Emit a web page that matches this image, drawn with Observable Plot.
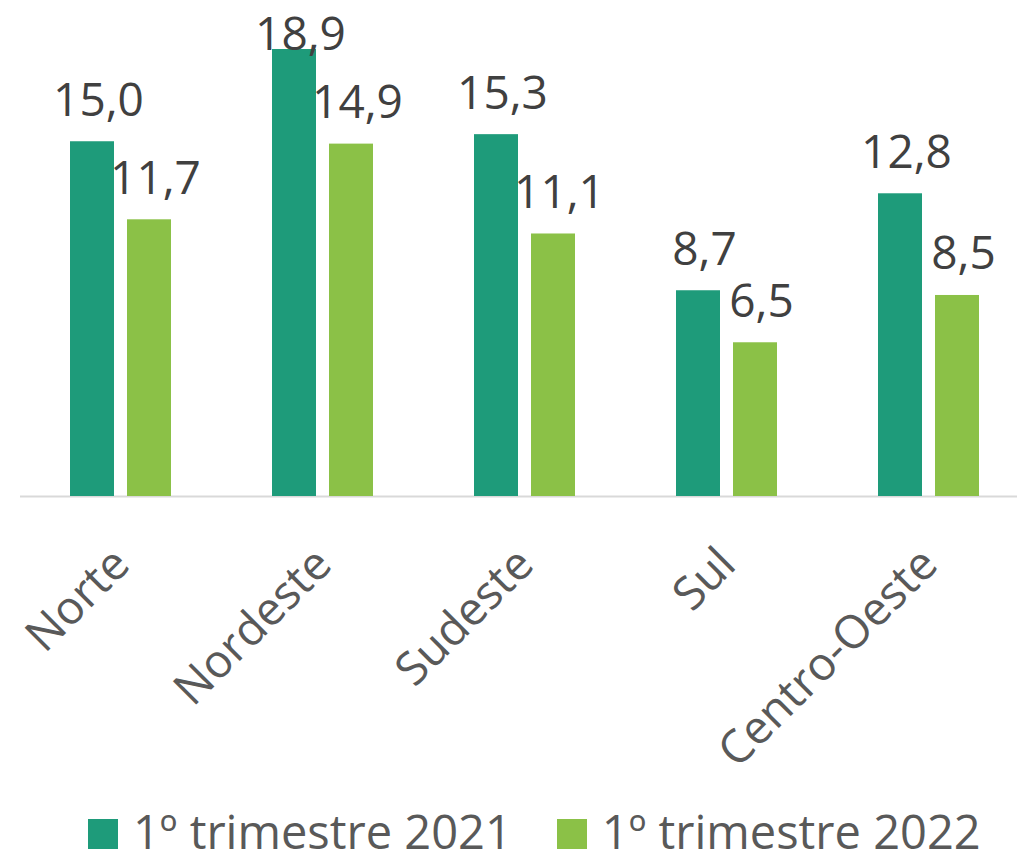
<!DOCTYPE html>
<html>
<head>
<meta charset="utf-8">
<script src="https://cdn.jsdelivr.net/npm/d3@7"></script>
<script src="https://cdn.jsdelivr.net/npm/@observablehq/plot@0.6"></script>
<style>
  html, body { margin: 0; padding: 0; background: #ffffff; overflow: hidden; width: 1017px; height: 862px; }
  #wrap { position: relative; width: 1017px; height: 862px; overflow: hidden; }
  #chart svg { display: block; max-width: none !important; }
  #legend { position: absolute; top: 808px; left: 88px; display: flex; align-items: baseline; gap: 45px;
            font-family: 'Open Sans', sans-serif; font-size: 47px; line-height: 47px; color: #595959; white-space: nowrap; }
  .item { display: flex; align-items: baseline; }
  .sw { width: 30px; height: 30px; margin-right: 15px; }
</style>
</head>
<body>
<div id="wrap">
  <div id="chart"></div>
  <div id="legend"></div>
</div>
<script>
const regions = ["Norte", "Nordeste", "Sudeste", "Sul", "Centro-Oeste"];
const series = ["1º trimestre 2021", "1º trimestre 2022"];
const values2021 = [15.0, 18.9, 15.3, 8.7, 12.8];
const values2022 = [11.7, 14.9, 11.1, 6.5, 8.5];
const colors = ["#1E9B7A", "#8BC147"];

const data = regions.flatMap((r, i) => [
  {region: r, series: series[0], value: values2021[i]},
  {region: r, series: series[1], value: values2022[i]}
]);
const fmt = v => v.toFixed(1).replace(".", ",");
const labelCap = 17.8;

const chart = Plot.plot({
  width: 1032,
  height: 800,
  marginTop: 23,
  marginBottom: 304,
  marginLeft: 18,
  marginRight: 0,
  style: {fontFamily: "'Open Sans', sans-serif", background: "white", maxWidth: "none"},
  fx: {domain: regions, padding: 0, axis: null},
  x: {domain: series, paddingInner: 0.224, paddingOuter: 0.862, axis: null},
  y: {domain: [0, 20], axis: null},
  color: {domain: series, range: colors},
  marks: [
    Plot.ruleY([0], {stroke: "#D9D9D9", strokeWidth: 2}),
    Plot.barY(data, {fx: "region", x: "series", y: "value", fill: "series"}),
    Plot.text(data, {
      fx: "region", x: "series", y: d => Math.min(d.value, labelCap),
      text: d => fmt(d.value), lineAnchor: "bottom", dy: -26, dx: 6,
      fontSize: 46, fill: "#404040"
    }),
    Plot.text(regions, {
      fx: d => d, text: d => d, frameAnchor: "bottom", rotate: -45,
      textAnchor: "end", lineAnchor: "middle", dy: 60,
      fontSize: 46, fill: "#595959"
    })
  ]
});
document.getElementById("chart").append(chart);

const legend = document.getElementById("legend");
series.forEach((s, i) => {
  const item = document.createElement("div");
  item.className = "item";
  const sw = document.createElement("span");
  sw.className = "sw";
  sw.style.background = colors[i];
  const t = document.createElement("span");
  t.textContent = s;
  item.append(sw, t);
  legend.append(item);
});
</script>
</body>
</html>
